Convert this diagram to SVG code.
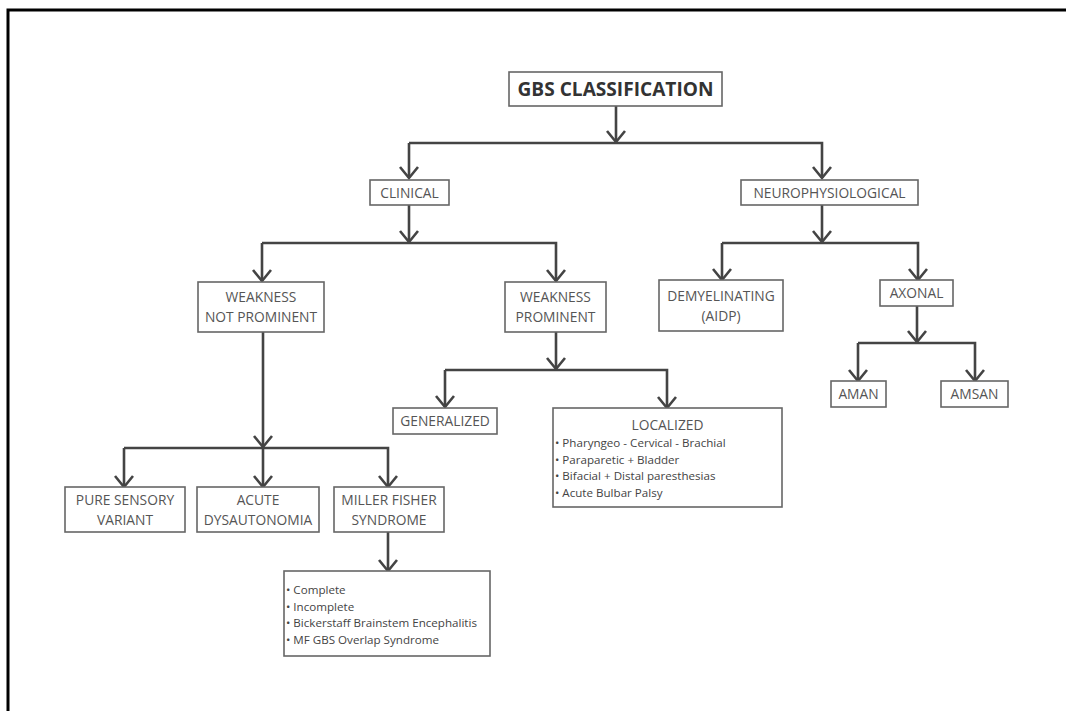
<svg xmlns="http://www.w3.org/2000/svg" width="1066" height="711" viewBox="0 0 1066 711">
<style>
.box{fill:#fff;stroke:#666;stroke-width:1.6}
.t{font-family:"Open Sans","Liberation Sans",sans-serif;font-size:13.8px;fill:#555;text-anchor:middle}
.b{font-family:"Open Sans","Liberation Sans",sans-serif;font-size:11.6px;fill:#444}
.c line,.c polyline{stroke:#444;stroke-width:2.6;fill:none}
</style>
<defs>
<marker id="ah" markerUnits="userSpaceOnUse" markerWidth="30" markerHeight="30" refX="0" refY="0" viewBox="-15 -15 30 30" orient="auto" overflow="visible">
<path d="M-11,-9 L0,0 L-11,9" fill="none" stroke="#444" stroke-width="2.6"/>
</marker>
</defs>
<rect width="1066" height="711" fill="#fff"/>
<path d="M8,711 L8,10 L1066,10" fill="none" stroke="#000" stroke-width="3"/>
<g class="c" id="connectors">
<line x1="616" y1="106" x2="616" y2="142" marker-end="url(#ah)"/>
<polyline points="409,143 822,143 822,178" marker-end="url(#ah)"/>
<line x1="409" y1="143" x2="409" y2="178" marker-end="url(#ah)"/>
<line x1="409" y1="205" x2="409" y2="242" marker-end="url(#ah)"/>
<polyline points="262,243 556,243 556,281" marker-end="url(#ah)"/>
<line x1="262" y1="243" x2="262" y2="281" marker-end="url(#ah)"/>
<line x1="822" y1="205" x2="822" y2="242" marker-end="url(#ah)"/>
<polyline points="722,243 918,243 918,280" marker-end="url(#ah)"/>
<line x1="722" y1="243" x2="722" y2="280" marker-end="url(#ah)"/>
<line x1="556" y1="332" x2="556" y2="369" marker-end="url(#ah)"/>
<polyline points="445,370 667,370 667,408" marker-end="url(#ah)"/>
<line x1="445" y1="370" x2="445" y2="407" marker-end="url(#ah)"/>
<line x1="917" y1="306" x2="917" y2="342" marker-end="url(#ah)"/>
<polyline points="858,343 975,343 975,381" marker-end="url(#ah)"/>
<line x1="858" y1="343" x2="858" y2="381" marker-end="url(#ah)"/>
<line x1="263" y1="332" x2="263" y2="447" marker-end="url(#ah)"/>
<polyline points="124,448 388,448 388,487" marker-end="url(#ah)"/>
<line x1="124" y1="448" x2="124" y2="487" marker-end="url(#ah)"/>
<line x1="263" y1="448" x2="263" y2="487" marker-end="url(#ah)"/>
<line x1="388" y1="532" x2="388" y2="571" marker-end="url(#ah)"/>
</g>
<g id="gbs">
<rect class="box" x="509" y="72" width="213" height="34"/>
<text x="615.5" y="96" font-family="Open Sans,Liberation Sans,sans-serif" font-weight="bold" font-size="20" fill="#333" text-anchor="middle" textLength="196" lengthAdjust="spacingAndGlyphs">GBS CLASSIFICATION</text>
</g>
<g id="clinical">
<rect class="box" x="370" y="180" width="79" height="25"/>
<text class="t" x="409.5" y="197.5">CLINICAL</text>
</g>
<g id="neuro">
<rect class="box" x="741" y="180" width="177" height="25"/>
<text class="t" x="829.5" y="197.5">NEUROPHYSIOLOGICAL</text>
</g>
<g id="wnp">
<rect class="box" x="198" y="282" width="126" height="50"/>
<text class="t" x="261" y="302">WEAKNESS</text>
<text class="t" x="261" y="322">NOT PROMINENT</text>
</g>
<g id="wp">
<rect class="box" x="505" y="282" width="101" height="50"/>
<text class="t" x="555.5" y="302">WEAKNESS</text>
<text class="t" x="555.5" y="322">PROMINENT</text>
</g>
<g id="demy">
<rect class="box" x="659" y="280" width="124" height="51"/>
<text class="t" x="721" y="301">DEMYELINATING</text>
<text class="t" x="721" y="321">(AIDP)</text>
</g>
<g id="axonal">
<rect class="box" x="880" y="280" width="73" height="26"/>
<text class="t" x="916.5" y="298">AXONAL</text>
</g>
<g id="aman">
<rect class="box" x="831" y="381" width="55" height="26"/>
<text class="t" x="858.5" y="399">AMAN</text>
</g>
<g id="amsan">
<rect class="box" x="941" y="381" width="67" height="26"/>
<text class="t" x="974.5" y="399">AMSAN</text>
</g>
<g id="generalized">
<rect class="box" x="393" y="408" width="104" height="26"/>
<text class="t" x="445" y="426">GENERALIZED</text>
</g>
<g id="localized">
<rect class="box" x="553" y="408" width="229" height="99"/>
<text class="t" x="667.5" y="430">LOCALIZED</text>
<text class="b" x="555" y="447">• Pharyngeo - Cervical - Brachial</text>
<text class="b" x="555" y="463.5">• Paraparetic + Bladder</text>
<text class="b" x="555" y="480">• Bifacial + Distal paresthesias</text>
<text class="b" x="555" y="497">• Acute Bulbar Palsy</text>
</g>
<g id="pure">
<rect class="box" x="65" y="487" width="120" height="45"/>
<text class="t" x="125" y="505">PURE SENSORY</text>
<text class="t" x="125" y="525">VARIANT</text>
</g>
<g id="acute">
<rect class="box" x="197" y="487" width="122" height="45"/>
<text class="t" x="258" y="505">ACUTE</text>
<text class="t" x="258" y="525">DYSAUTONOMIA</text>
</g>
<g id="mfs">
<rect class="box" x="334" y="487" width="110" height="45"/>
<text class="t" x="389" y="505">MILLER FISHER</text>
<text class="t" x="389" y="525">SYNDROME</text>
</g>
<g id="mfsub">
<rect class="box" x="284" y="571" width="206" height="85"/>
<text class="b" x="286" y="594">• Complete</text>
<text class="b" x="286" y="610.5">• Incomplete</text>
<text class="b" x="286" y="627">• Bickerstaff Brainstem Encephalitis</text>
<text class="b" x="286" y="644">• MF GBS Overlap Syndrome</text>
</g>
</svg>
